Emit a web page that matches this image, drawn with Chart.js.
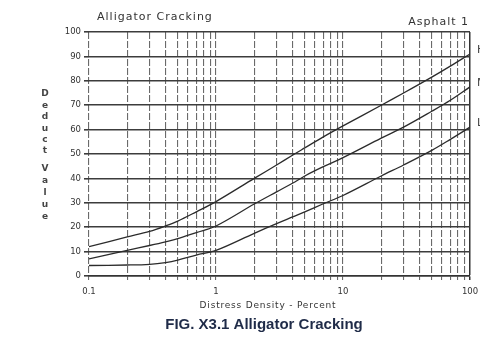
<!DOCTYPE html>
<html>
<head>
<meta charset="utf-8">
<script src="https://cdn.jsdelivr.net/npm/chart.js@4"></script>
<style>
  html, body { margin: 0; padding: 0; background: #fff; }
  #wrap { width: 480px; height: 338px; position: relative; }
</style>
</head>
<body>
<div id="wrap"><canvas id="chart" width="480" height="338"></canvas></div>
<script>
// distress density (percent) where the curves were read
const density = [0.1, 0.2, 0.3, 0.4, 0.5, 0.7, 1, 2, 3, 4, 5, 7, 10, 20, 30, 50, 70, 100];
// deduct values per severity
const highDV   = [12, 16, 18.3, 20.5, 22.5, 26.3, 30.5, 40, 45.5, 49.5, 52.5, 57, 61.5, 70, 75, 81.5, 86, 91];
const mediumDV = [7, 10.5, 12.5, 14, 15.3, 17.8, 20.5, 29.5, 34.5, 38, 41, 44.8, 48.5, 56.5, 61, 67.5, 72, 77.5];
const lowDV    = [4.3, 4.5, 4.8, 5.5, 6.5, 8.6, 10.5, 17.5, 21.5, 24.2, 26.3, 29.6, 33, 41, 45.5, 51.5, 56, 61];

const xGridValues = [0.1, 0.2, 0.3, 0.4, 0.5, 0.6, 0.7, 0.8, 0.9,
                     1, 2, 3, 4, 5, 6, 7, 8, 9,
                     10, 20, 30, 40, 50, 60, 70, 80, 90, 100];
const xLabelValues = [0.1, 1, 10, 100];
const yTickValues = [0, 10, 20, 30, 40, 50, 60, 70, 80, 90, 100];
const severityLabels = ["H", "M", "L"];

function toPoints(vals) {
    return density.map((d, i) => ({ x: d, y: vals[i] }));
}

const lineStyle = {
    borderColor: "#2b2b2b",
    borderWidth: 1.3,
    pointRadius: 0,
    fill: false,
    tension: 0.35
};

// extra text the chart needs: titles, stacked y title, caption
const textPlugin = {
    id: "textPlugin",
    afterDraw(chart) {
        const ctx = chart.ctx;
        ctx.save();
        ctx.fillStyle = "#333";
        ctx.textBaseline = "middle";

        ctx.font = "11px 'DejaVu Sans'";
        ctx.letterSpacing = "1px";
        ctx.textAlign = "left";
        ctx.fillText("Alligator Cracking", 97, 17);
        ctx.textAlign = "right";
        ctx.fillText("Asphalt 1", 469, 22);

        ctx.font = "9px 'DejaVu Sans'";
        ctx.letterSpacing = "0.8px";
        ctx.textAlign = "center";
        ctx.fillText("Distress Density - Percent", 268, 306);

        // vertical stacked letters
        ctx.letterSpacing = "0px";
        ctx.font = "bold 9px 'DejaVu Sans'";
        ctx.fillStyle = "#444";
        "Deduct".split("").forEach((c, i) => ctx.fillText(c, 45, 94 + i * 11.4));
        "Value".split("").forEach((c, i) => ctx.fillText(c, 45, 169 + i * 11.8));

        // severity labels, cut by the page edge
        ctx.font = "11px 'DejaVu Sans'";
        ctx.textAlign = "left";
        const sets = [highDV, mediumDV, lowDV];
        sets.forEach((vals, i) => {
            const y = chart.scales.y.getPixelForValue(vals[vals.length - 1]);
            ctx.fillText(severityLabels[i], 477, y - 4);
        });

        ctx.font = "bold 15px 'Liberation Sans', Arial";
        ctx.fillStyle = "#1f2b48";
        ctx.textAlign = "center";
        ctx.fillText("FIG. X3.1 Alligator Cracking", 264, 325);
        ctx.restore();
    }
};

const ctx = document.getElementById("chart").getContext("2d");
new Chart(ctx, {
    type: "line",
    data: {
        datasets: [
            Object.assign({ label: "High", data: toPoints(highDV) }, lineStyle),
            Object.assign({ label: "Medium", data: toPoints(mediumDV) }, lineStyle),
            Object.assign({ label: "Low", data: toPoints(lowDV) }, lineStyle)
        ]
    },
    options: {
        responsive: false,
        animation: false,
        layout: { padding: { left: 0, right: 10, top: 32, bottom: 0 } },
        plugins: {
            legend: { display: false },
            tooltip: { enabled: false }
        },
        scales: {
            x: {
                type: "logarithmic",
                min: 0.1,
                max: 100,
                afterFit(scale) {
                    scale.height = 62;
                    scale.paddingLeft = 0;
                    scale.paddingRight = 0;
                },
                afterBuildTicks(scale) {
                    scale.ticks = xGridValues.map(v => ({ value: v }));
                },
                ticks: {
                    autoSkip: false,
                    maxRotation: 0,
                    padding: 7,
                    color: "#333",
                    font: { family: "DejaVu Sans", size: 8.5 },
                    callback: (v) => xLabelValues.includes(v) ? String(v) : ""
                },
                grid: {
                    color: (c) => c.tick && c.tick.value === 100 ? "#333" : "#6a6a6a",
                    lineWidth: (c) => c.tick && c.tick.value === 100 ? 1.5 : 1.1,
                    tickLength: 4
                },
                border: {
                    display: true,
                    color: "#333",
                    width: 1.5,
                    dash: (c) => c.tick && c.tick.value === 100 ? [] : [7, 2]
                }
            },
            y: {
                min: 0,
                max: 100,
                afterFit(scale) {
                    scale.width = 89;
                    scale.paddingTop = 0;
                    scale.paddingBottom = 0;
                },
                afterBuildTicks(scale) {
                    scale.ticks = yTickValues.map(v => ({ value: v }));
                },
                ticks: {
                    padding: 3,
                    color: "#333",
                    font: { family: "DejaVu Sans", size: 8.5 }
                },
                grid: {
                    color: "#3c3c3c",
                    lineWidth: 1.6,
                    tickLength: 5
                },
                border: { display: false }
            }
        }
    },
    plugins: [textPlugin]
});
</script>
</body>
</html>
